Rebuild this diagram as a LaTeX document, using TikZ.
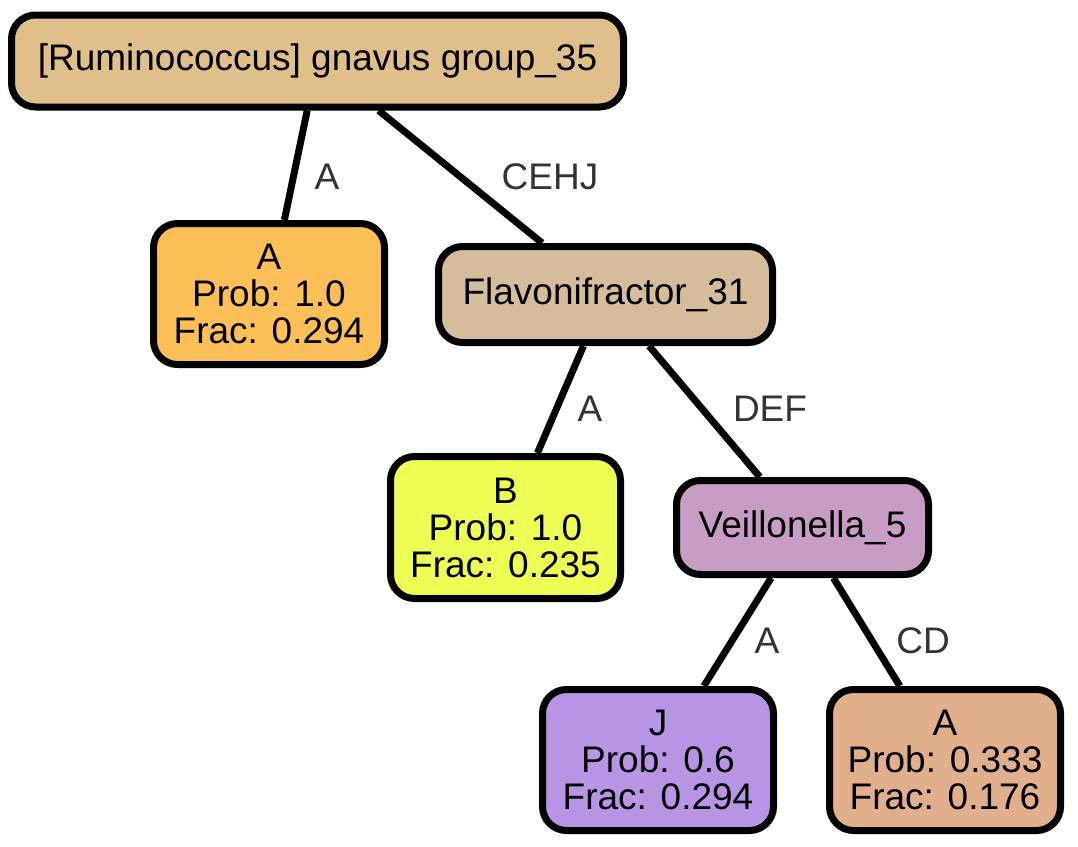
\documentclass[tikz,border=0pt]{standalone}
\usepackage{fontspec}
\setmainfont{Liberation Sans}
\begin{document}
\begin{tikzpicture}[x=1pt,y=-1pt,
  box/.style={draw=black, line width=7pt, rounded corners=24pt, align=center, inner sep=0pt,
    font=\fontsize{37}{37}\selectfont},
  edge/.style={line width=7pt, draw=black},
  elab/.style={text=black!80, font=\fontsize{37}{37}\selectfont}]
\useasboundingbox (0,0) rectangle (1078,846);
\definecolor{cRoot}{HTML}{DFBF8A}
\definecolor{cA}{HTML}{FDBF57}
\definecolor{cFlav}{HTML}{D5BD9C}
\definecolor{cB}{HTML}{EDFE55}
\definecolor{cVeil}{HTML}{C89DC5}
\definecolor{cJ}{HTML}{B894E4}
\definecolor{cA2}{HTML}{E2AF8D}
\node[box, fill=cRoot, minimum width=612pt, minimum height=92pt] (root) at (317.5,61) {[Ruminococcus] gnavus group\_35};
\node[box, fill=cA, minimum width=231pt, minimum height=141pt] (a1) at (269,294) {A\\Prob: 1.0\\Frac: 0.294};
\node[box, fill=cFlav, minimum width=334pt, minimum height=96pt] (flav) at (605.5,294.5) {Flavonifractor\_31};
\node[box, fill=cB, minimum width=230pt, minimum height=142pt] (b) at (505.5,527.5) {B\\Prob: 1.0\\Frac: 0.235};
\node[box, fill=cVeil, minimum width=252pt, minimum height=94pt] (veil) at (802.5,527.5) {Veillonella\_5};
\node[box, fill=cJ, minimum width=231pt, minimum height=141pt] (j) at (658,760) {J\\Prob: 0.6\\Frac: 0.294};
\node[box, fill=cA2, minimum width=231pt, minimum height=141pt] (a2) at (945,760) {A\\Prob: 0.333\\Frac: 0.176};
\draw[edge] (root) -- (a1);
\draw[edge] (root) -- (flav);
\draw[edge] (flav) -- (b);
\draw[edge] (flav) -- (veil);
\draw[edge] (veil) -- (j);
\draw[edge] (veil) -- (a2);
\node[elab] (l1) at (327,177) {A};
\node[elab] (l2) at (550,177) {CEHJ};
\node[elab] (l3) at (590,409) {A};
\node[elab] (l4) at (770,409) {DEF};
\node[elab] (l5) at (767,641) {A};
\node[elab] (l6) at (923,641) {CD};
\end{tikzpicture}
\end{document}
